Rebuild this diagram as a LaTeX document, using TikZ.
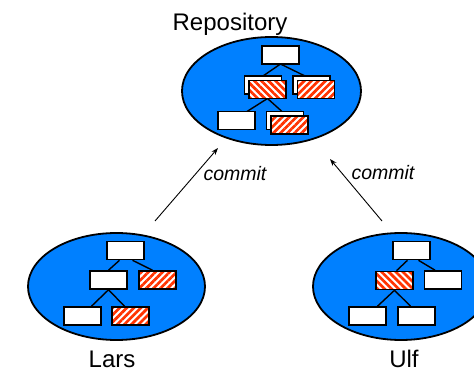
\documentclass[tikz,border=0pt]{standalone}
\usepackage{fontspec}
\setmainfont{Liberation Sans}
\usetikzlibrary{shapes.geometric,patterns.meta,arrows.meta}
\definecolor{cblue}{RGB}{0,128,255}
\definecolor{cred}{RGB}{255,51,0}
\tikzset{
  cloud/.style={ellipse,draw=black,line width=1.8pt,fill=cblue,inner sep=0pt},
  filebox/.style={draw=black,fill=white,line width=1.6pt,minimum width=37pt,minimum height=18pt,inner sep=0pt},
  hatchne/.style={filebox,preaction={fill=white},pattern={Lines[angle=45,distance=5pt,line width=2.7pt]},pattern color=cred},
  hatchnw/.style={filebox,preaction={fill=white},pattern={Lines[angle=-45,distance=5pt,line width=2.7pt]},pattern color=cred},
  tree/.style={line width=1.4pt,draw=black},
  bigtext/.style={font=\fontsize{24}{28}\selectfont,inner sep=0pt,anchor=base},
  cmtext/.style={font=\fontsize{19.5}{23}\selectfont\itshape,inner sep=0pt,anchor=base},
  commitarrow/.style={line width=0.9pt,-{Stealth[length=7pt,width=5pt]}}
}
\begin{document}
\begin{tikzpicture}[x=1pt,y=-1pt]
\useasboundingbox (0,0) rectangle (474,371);
\clip (0,0) rectangle (474,371);
% ellipses
\node[cloud,minimum width=179pt,minimum height=108pt] (repo) at (271.5,91) {};
\node[cloud,minimum width=177pt,minimum height=107pt] (lars) at (116.5,286.5) {};
\node[cloud,minimum width=176pt,minimum height=107pt] (ulf) at (401,286.5) {};
% labels
\node[bigtext] (repolab) at (230,31) {Repository};
\node[bigtext] (larslab) at (112,367) {Lars};
\node[bigtext] (ulflab) at (404,367) {Ulf};
\node[cmtext] (c1) at (235,180.5) {commit};
\node[cmtext] (c2) at (383,179.5) {commit};
% repository boxes
\coordinate (rtc) at (280.5,55);
\coordinate (rlbc) at (263,85);
\coordinate (rrbc) at (311.5,85);
\coordinate (rlfc) at (267.5,89.5);
\coordinate (rblc) at (236.5,120.5);
\coordinate (rbrbc) at (285,120.5);
\draw[tree] (280.5,64) -- (263,76);
\draw[tree] (280.5,64) -- (305,76);
\draw[tree] (267.5,98.5) -- (247,111.5);
\draw[tree] (267.5,98.5) -- (282,111.5);
\node[filebox] (rt) at (rtc) {};
\node[filebox] (rlb) at (rlbc) {};
\node[hatchnw] (rlf) at (rlfc) {};
\node[filebox] (rrb) at (rrbc) {};
\node[hatchne] (rrf) at (316,89.5) {};
\node[filebox] (rbl) at (rblc) {};
\node[filebox] (rbrb) at (rbrbc) {};
\node[hatchne] (rbrf) at (289.5,125) {};
% Lars boxes
\node[filebox] (lt) at (125.5,250.5) {};
\node[filebox] (lml) at (108.5,280) {};
\node[hatchne] (lmr) at (157.5,280) {};
\node[filebox] (lbl) at (82.5,316) {};
\node[hatchne] (lbr) at (130.5,316) {};
\draw[tree] ([xshift=-6pt]lt.south) -- (lml.north);
\draw[tree] ([xshift=7pt]lt.south) -- ([xshift=-5pt]lmr.north);
\draw[tree] (lml.south) -- ([xshift=9pt]lbl.north);
\draw[tree] (lml.south) -- ([xshift=-6pt]lbr.north);
% Ulf boxes
\node[filebox] (ut) at (411.5,250.5) {};
\node[hatchnw] (uml) at (394.5,280.5) {};
\node[filebox] (umr) at (443,280) {};
\node[filebox] (ubl) at (367.5,316) {};
\node[filebox] (ubr) at (416.5,316) {};
\draw[tree] ([xshift=-4pt]ut.south) -- ([xshift=2pt]uml.north);
\draw[tree] ([xshift=7pt]ut.south) -- ([xshift=-8pt]umr.north);
\draw[tree] (uml.south) -- ([xshift=10pt]ubl.north);
\draw[tree] (uml.south) -- ([xshift=-6pt]ubr.north);
% commit arrows
\coordinate (la) at (155,221);
\coordinate (lb) at (218,148);
\coordinate (ra) at (382,221);
\coordinate (rb) at (330,159);
\draw[commitarrow] (la) -- (lb);
\draw[commitarrow] (ra) -- (rb);
\end{tikzpicture}
\end{document}
